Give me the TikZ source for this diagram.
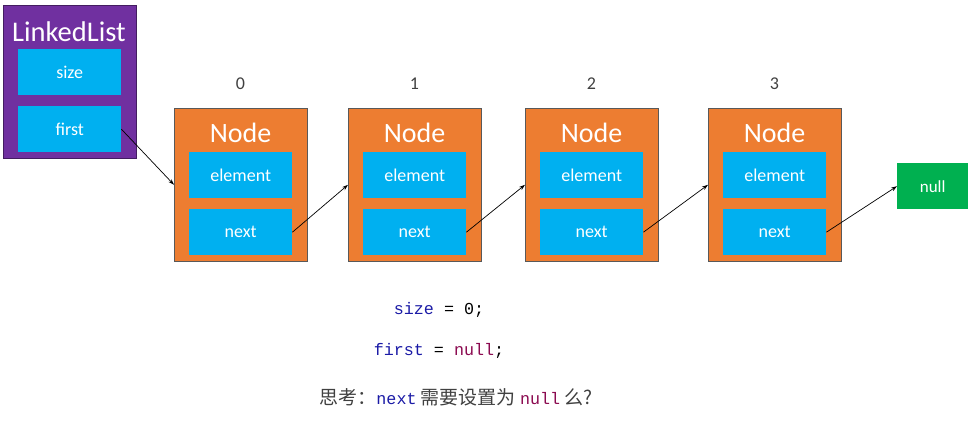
\documentclass[tikz,border=0pt]{standalone}
\usepackage{fontspec}
\setmainfont{Carlito}
\setmonofont{Liberation Mono}
\newfontfamily\cjk{Noto Sans CJK SC}
\usetikzlibrary{arrows.meta}
\definecolor{lpurple}{HTML}{7030A0}
\definecolor{lcyan}{HTML}{00B0F0}
\definecolor{lorange}{HTML}{ED7D31}
\definecolor{lgreen}{HTML}{00B050}
\definecolor{kwblue}{HTML}{1A1AA6}
\definecolor{nullpurple}{HTML}{8B0A50}
\definecolor{idxgrey}{HTML}{404040}
\tikzset{
  outerbox/.style={draw=gray!70!black, line width=0.6pt, minimum width=133pt, minimum height=153pt, anchor=north west, inner sep=0pt},
  fieldbox/.style={fill=lcyan, draw=none, minimum width=103pt, minimum height=46pt, anchor=north west, inner sep=0pt, text=white, font=\fontsize{18}{18}\selectfont},
  titletext/.style={text=white, font=\fontsize{28}{28}\selectfont},
  idx/.style={text=idxgrey, font=\fontsize{18}{18}\selectfont},
  link/.style={-{Stealth[length=6pt,width=4pt]}, line width=0.7pt, black},
}
\begin{document}
\begin{tikzpicture}[x=1pt,y=-1pt]
\useasboundingbox (0,0) rectangle (976,428);
% LinkedList
\node[outerbox, fill=lpurple, draw=lpurple!60!black] (ll) at (3,5) {};
\node[titletext, font=\fontsize{28.5}{28.5}\selectfont] (lltitle) at (69,32) {LinkedList};
\node[fieldbox] (size) at (18,49) {size};
\node[fieldbox] (first) at (18,106) {first};
% Nodes
\foreach \i/\x in {0/174, 1/348, 2/525, 3/708} {
  \node[outerbox, fill=lorange] (n\i) at (\x,108) {};
  \node[titletext] (t\i) at (\x+66.5,133) {Node};
  \node[fieldbox] (e\i) at (\x+15,152) {element};
  \node[fieldbox] (x\i) at (\x+15,209) {next};
  \node[idx] (i\i) at (\x+66.5,84) {\i};
}
\node[fill=lgreen, minimum width=71pt, minimum height=46pt, inner sep=0pt, anchor=north west, text=white, font=\fontsize{17}{17}\selectfont] (null) at (897,163) {null};
% links
\draw[link] (first.east) -- (n0.west);
\draw[link] (x0.east) -- (n1.west);
\draw[link] (x1.east) -- (n2.west);
\draw[link] (x2.east) -- (n3.west);
\draw[link] (x3.east) -- (null.west);
% text
\node[font=\ttfamily\fontsize{16.7}{16.7}\selectfont] (c1) at (439,310) {\textcolor{kwblue}{size} = 0;};
\node[font=\ttfamily\fontsize{16.7}{16.7}\selectfont] (c2) at (439,351) {\textcolor{kwblue}{first} = \textcolor{nullpurple}{null};};
\node[font=\fontsize{19}{19}\selectfont, text=idxgrey] (q) at (456,397) {{\cjk 思考：}\texttt{\fontsize{16.7}{16.7}\selectfont\textcolor{kwblue}{next}} {\cjk 需要设置为} \texttt{\fontsize{16.7}{16.7}\selectfont\textcolor{nullpurple}{null}} {\cjk 么?}};
\end{tikzpicture}
\end{document}
